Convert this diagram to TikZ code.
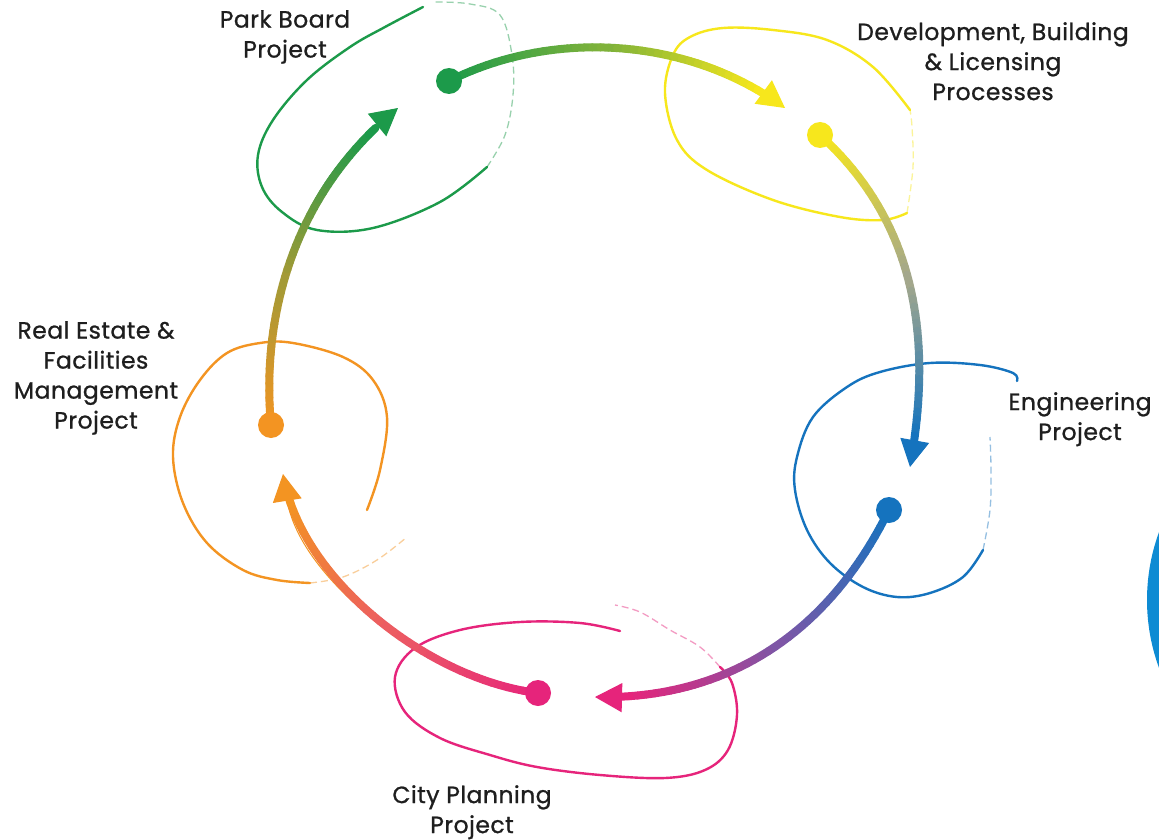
\documentclass[tikz,border=0pt]{standalone}
\usepackage{fontspec}
\setmainfont{Poppins}[UprightFeatures={FakeBold=0.9}, LetterSpace=2]
\usetikzlibrary{arrows.meta}
\definecolor{cgreen}{HTML}{1C9A4A}
\definecolor{cyellow}{HTML}{F7E71C}
\definecolor{cblue}{HTML}{1573BE}
\definecolor{cpink}{HTML}{E6247B}
\definecolor{corange}{HTML}{F39422}
\definecolor{cbadge}{HTML}{0E8BD3}
\definecolor{ctext}{HTML}{1E1E1E}
\definecolor{mgy}{HTML}{7FB23A}
\definecolor{myb}{HTML}{A3A78C}
\definecolor{mbp}{HTML}{7E56A6}
\definecolor{mpo}{HTML}{EC5C62}
\definecolor{mog}{HTML}{A49A36}
% #1 start #2 c1 #3 c2 #4 end #5 start colour #6 middle colour #7 end colour
\newcommand\gradarc[7]{%
  \draw[line width=1pt, draw=#7, -{Triangle[length=27pt,width=29pt]}] #1 .. controls #2 and #3 .. #4;
  \foreach \k in {0,...,39}{%
    \pgfmathsetmacro\ta{\k/40*0.93}%
    \pgfmathsetmacro\tb{(\k+1)/40*0.93}%
    \path #1 .. controls #2 and #3 .. #4 coordinate[pos=\ta] (ga) coordinate[pos=\tb] (gb);
    \ifnum\k<20
      \pgfmathtruncatemacro\pc{100-\k*100/19}%
      \draw[arcline, draw=#5!\pc!#6] (ga) -- (gb);
    \else
      \pgfmathtruncatemacro\pc{100-(\k-20)*100/19}%
      \draw[arcline, draw=#6!\pc!#7] (ga) -- (gb);
    \fi
  }%
}
\begin{document}
\begin{tikzpicture}[x=1pt,y=-1pt,
  arcline/.style={line width=8pt, line cap=round},
  loopline/.style={line width=2.4pt, line cap=round, line join=round},
  faint/.style={line width=1.3pt, dash pattern=on 7pt off 4pt, opacity=0.45},
  dot/.style={circle, minimum size=26pt, inner sep=0pt},
  lbl/.style={anchor=north, align=center, inner sep=0pt, text=ctext, font=\fontsize{23.5}{30}\selectfont}]
\useasboundingbox (0,0) rectangle (1159,840);
\fill[white] (0,0) rectangle (1159,840);

% badge at right edge
\begin{scope}
\clip (0,0) rectangle (1159,840);
\fill[cbadge] (1344,600) circle[radius=197];
\end{scope}

% loops
\draw[loopline, cgreen] plot[smooth, tension=0.6] coordinates {(423,7) (385,27) (350,47) (307,80) (273,120) (258,155) (262,187) (282,212) (317,230) (373,228) (440,202) (487,167)};
\draw[faint, cgreen] plot[smooth, tension=0.6] coordinates {(487,167) (505,135) (513,95) (512,55) (500,15) (470,4) (435,2)};

\draw[loopline, cyellow] plot[smooth, tension=0.6] coordinates {(910,110) (873,67) (827,40) (773,30) (723,28) (690,37) (673,55) (665,93) (677,140) (707,170) (773,200) (840,217) (883,220) (907,213)};
\draw[faint, cyellow] plot[smooth, tension=0.6] coordinates {(907,213) (913,167) (912,127) (910,110)};

\draw[loopline, cblue] plot[smooth, tension=0.6] coordinates {(1017,381) (1013,373) (980,365) (930,363) (880,372) (847,387) (813,417) (797,457) (795,490) (807,530) (830,563) (863,587) (897,597) (930,593) (963,577) (983,550)};
\draw[faint, cblue] plot[smooth, tension=0.6] coordinates {(983,550) (990,510) (991,470) (990,437)};

\draw[loopline, cpink] plot[smooth, tension=0.6] coordinates {(620,631) (580,623) (520,622) (460,630) (415,648) (395,677) (405,712) (440,738) (490,755) (537,767) (600,775) (665,778) (705,770) (728,750) (737,715) (732,683) (720,667)};
\draw[faint, cpink] plot[smooth, tension=0.6] coordinates {(720,667) (700,647) (670,630) (640,612) (615,605)};

\draw[loopline, corange] plot[smooth, tension=0.6] coordinates {(367,510) (380,470) (387,417) (373,380) (343,357) (293,343) (260,343) (227,353) (200,380) (180,417) (173,457) (183,503) (207,543) (243,570) (277,580) (310,583)};
\draw[faint, corange] plot[smooth, tension=0.6] coordinates {(310,583) (343,577) (377,560) (407,537)};

% nodes (dots) and arrow tips
\coordinate (gpos) at (449,81);
\coordinate (ypos) at (820,135);
\coordinate (bpos) at (889,510);
\coordinate (ppos) at (538,693);
\coordinate (opos) at (271,425);
\coordinate (ytip) at (785,108);
\coordinate (btip) at (910,467);
\coordinate (ptip) at (595,697);
\coordinate (otip) at (283,474);
\coordinate (gtip) at (398,108);

% gradient connectors
\gradarc{(gpos)}{(555,28)}{(690,38)}{(ytip)}{cgreen}{mgy}{cyellow}
\gradarc{(ypos)}{(925,230)}{(930,355)}{(btip)}{cyellow}{myb}{cblue}
\gradarc{(bpos)}{(825,640)}{(720,700)}{(ptip)}{cblue}{mbp}{cpink}
\gradarc{(ppos)}{(430,680)}{(300,580)}{(otip)}{cpink}{mpo}{corange}
\gradarc{(opos)}{(262,330)}{(285,200)}{(gtip)}{corange}{mog}{cgreen}

\node[dot, fill=cgreen] (gdot) at (gpos) {};
\node[dot, fill=cyellow] (ydot) at (ypos) {};
\node[dot, fill=cblue] (bdot) at (bpos) {};
\node[dot, fill=cpink] (pdot) at (ppos) {};
\node[dot, fill=corange] (odot) at (opos) {};

% labels
\node[lbl] (lpark) at (285,10) {Park Board\\Project};
\node[lbl] (ldev) at (993,22) {Development, Building\\\& Licensing\\Processes};
\node[lbl] (leng) at (1080,392) {Engineering\\Project};
\node[lbl] (lreal) at (96,321) {Real Estate \&\\Facilities\\Management\\Project};
\node[lbl] (lcity) at (472,785) {City Planning\\Project};
\end{tikzpicture}
\end{document}
